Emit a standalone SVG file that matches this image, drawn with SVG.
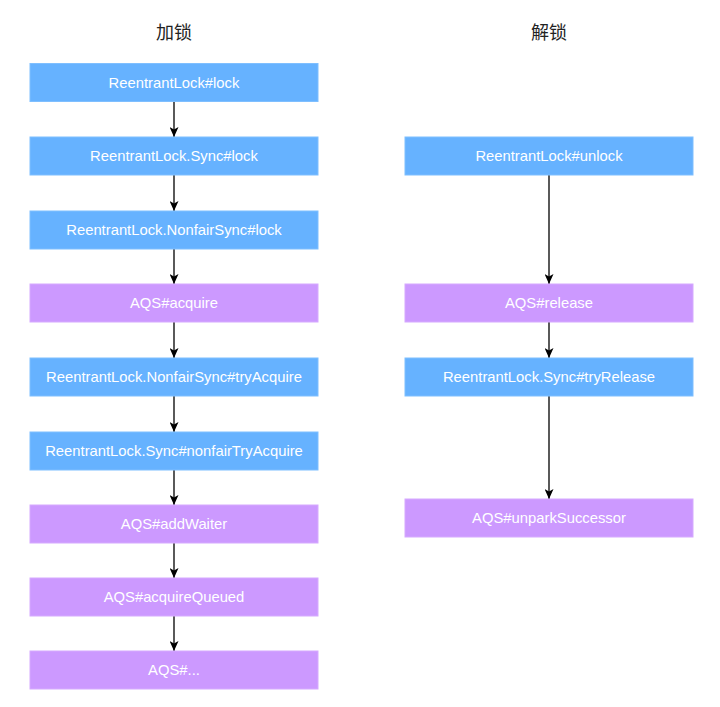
<svg xmlns="http://www.w3.org/2000/svg" width="720" height="707" viewBox="0 0 720 707">
<style>
.t{font-family:"Liberation Sans",Arial,sans-serif;font-size:14.8px;fill:#fff;text-anchor:middle;dominant-baseline:central}
.h{font-family:"Noto Sans CJK SC","Liberation Sans",sans-serif;font-size:18px;fill:#222;text-anchor:middle;dominant-baseline:central}
.b{fill:#66B2FF;stroke:#7fbfff;stroke-width:1}
.p{fill:#CC99FF;stroke:#d6aaff;stroke-width:1}
.c{stroke:#000;stroke-width:1.3;fill:none;marker-end:url(#a)}
</style>
<defs>
<marker id="a" viewBox="0 0 10 10" refX="10" refY="5" markerWidth="10" markerHeight="9" markerUnits="userSpaceOnUse" orient="auto" preserveAspectRatio="none">
<path d="M0,0 L10,5 L0,10 L2.5,5 Z" fill="#000"/>
</marker>
</defs>
<rect width="720" height="707" fill="#fff"/>
<text class="h" x="174" y="31">加锁</text>
<text class="h" x="549" y="31">解锁</text>
<g id="connectors">
<line class="c" x1="174" y1="102" x2="174" y2="137"/>
<line class="c" x1="174" y1="175" x2="174" y2="211"/>
<line class="c" x1="174" y1="249" x2="174" y2="284"/>
<line class="c" x1="174" y1="322" x2="174" y2="358"/>
<line class="c" x1="174" y1="396" x2="174" y2="432"/>
<line class="c" x1="174" y1="470" x2="174" y2="505"/>
<line class="c" x1="174" y1="543" x2="174" y2="578"/>
<line class="c" x1="174" y1="616" x2="174" y2="651"/>
<line class="c" x1="549" y1="175" x2="549" y2="284"/>
<line class="c" x1="549" y1="322" x2="549" y2="358"/>
<line class="c" x1="549" y1="396" x2="549" y2="499"/>
</g>
<g id="n1"><rect class="b" x="30" y="63.5" width="288" height="38"/><text class="t" x="174" y="82.5">ReentrantLock#lock</text></g>
<g id="n2"><rect class="b" x="30" y="137" width="288" height="38"/><text class="t" x="174" y="156">ReentrantLock.Sync#lock</text></g>
<g id="n3"><rect class="b" x="30" y="211" width="288" height="38"/><text class="t" x="174" y="230">ReentrantLock.NonfairSync#lock</text></g>
<g id="n4"><rect class="p" x="30" y="284" width="288" height="38"/><text class="t" x="174" y="303">AQS#acquire</text></g>
<g id="n5"><rect class="b" x="30" y="358" width="288" height="38"/><text class="t" x="174" y="377">ReentrantLock.NonfairSync#tryAcquire</text></g>
<g id="n6"><rect class="b" x="30" y="432" width="288" height="38"/><text class="t" x="174" y="451">ReentrantLock.Sync#nonfairTryAcquire</text></g>
<g id="n7"><rect class="p" x="30" y="505" width="288" height="38"/><text class="t" x="174" y="524">AQS#addWaiter</text></g>
<g id="n8"><rect class="p" x="30" y="578" width="288" height="38"/><text class="t" x="174" y="597">AQS#acquireQueued</text></g>
<g id="n9"><rect class="p" x="30" y="651" width="288" height="38"/><text class="t" x="174" y="670">AQS#...</text></g>
<g id="m1"><rect class="b" x="405" y="137" width="288" height="38"/><text class="t" x="549" y="156">ReentrantLock#unlock</text></g>
<g id="m2"><rect class="p" x="405" y="284" width="288" height="38"/><text class="t" x="549" y="303">AQS#release</text></g>
<g id="m3"><rect class="b" x="405" y="358" width="288" height="38"/><text class="t" x="549" y="377">ReentrantLock.Sync#tryRelease</text></g>
<g id="m4"><rect class="p" x="405" y="499" width="288" height="38"/><text class="t" x="549" y="518">AQS#unparkSuccessor</text></g>
</svg>
